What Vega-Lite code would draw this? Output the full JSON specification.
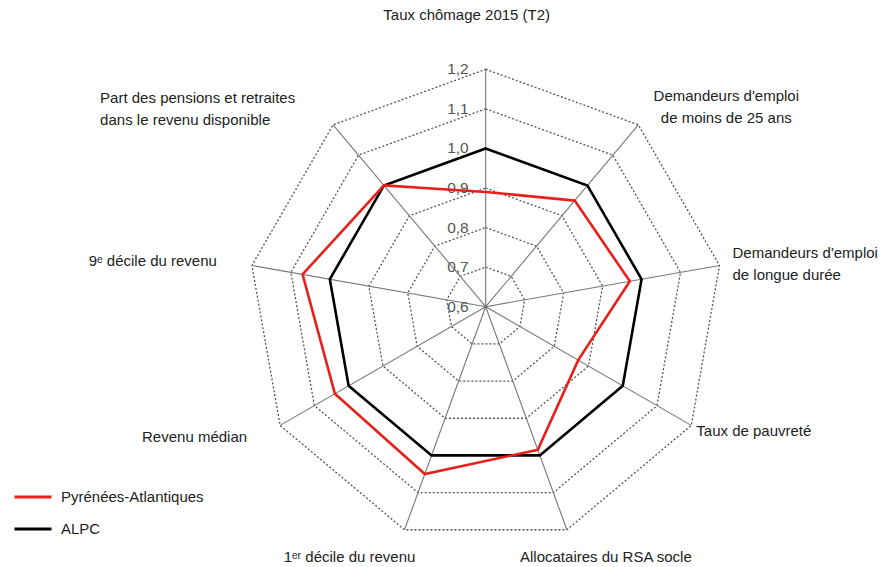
{
  "$schema": "https://vega.github.io/schema/vega-lite/v6.json",
  "width": 887,
  "height": 567,
  "autosize": "none",
  "padding": 0,
  "background": "white",
  "config": {
    "view": {"stroke": null},
    "font": "Liberation Sans",
    "text": {"font": "Liberation Sans", "fontSize": 15, "fill": "#222"}
  },
  "datasets": {
    "axes": [
      {"idx": 0, "axis": "Taux chômage 2015 (T2)"},
      {"idx": 1, "axis": "Demandeurs d'emploi\nde moins de 25 ans"},
      {"idx": 2, "axis": "Demandeurs d'emploi\nde longue durée"},
      {"idx": 3, "axis": "Taux de pauvreté"},
      {"idx": 4, "axis": "Allocataires du RSA socle"},
      {"idx": 5, "axis": "1ᵉʳ décile du revenu"},
      {"idx": 6, "axis": "Revenu médian"},
      {"idx": 7, "axis": "9ᵉ décile du revenu"},
      {"idx": 8, "axis": "Part des pensions et retraites\ndans le revenu disponible"}
    ],
    "rings": [
      {"level": 0.7, "idx": [0, 1, 2, 3, 4, 5, 6, 7, 8]},
      {"level": 0.8, "idx": [0, 1, 2, 3, 4, 5, 6, 7, 8]},
      {"level": 0.9, "idx": [0, 1, 2, 3, 4, 5, 6, 7, 8]},
      {"level": 1.0, "idx": [0, 1, 2, 3, 4, 5, 6, 7, 8]},
      {"level": 1.1, "idx": [0, 1, 2, 3, 4, 5, 6, 7, 8]},
      {"level": 1.2, "idx": [0, 1, 2, 3, 4, 5, 6, 7, 8]}
    ],
    "ticklabels": [
      {"level": 0.6, "label": "0,6"},
      {"level": 0.7, "label": "0,7"},
      {"level": 0.8, "label": "0,8"},
      {"level": 0.9, "label": "0,9"},
      {"level": 1.0, "label": "1,0"},
      {"level": 1.1, "label": "1,1"},
      {"level": 1.2, "label": "1,2"}
    ],
    "series": [
      {"series": "ALPC", "idx": 0, "value": 1.0},
      {"series": "ALPC", "idx": 1, "value": 1.0},
      {"series": "ALPC", "idx": 2, "value": 1.0},
      {"series": "ALPC", "idx": 3, "value": 1.0},
      {"series": "ALPC", "idx": 4, "value": 1.0},
      {"series": "ALPC", "idx": 5, "value": 1.0},
      {"series": "ALPC", "idx": 6, "value": 1.0},
      {"series": "ALPC", "idx": 7, "value": 1.0},
      {"series": "ALPC", "idx": 8, "value": 1.0},
      {"series": "Pyrénées-Atlantiques", "idx": 0, "value": 0.89},
      {"series": "Pyrénées-Atlantiques", "idx": 1, "value": 0.95},
      {"series": "Pyrénées-Atlantiques", "idx": 2, "value": 0.97},
      {"series": "Pyrénées-Atlantiques", "idx": 3, "value": 0.87},
      {"series": "Pyrénées-Atlantiques", "idx": 4, "value": 0.985},
      {"series": "Pyrénées-Atlantiques", "idx": 5, "value": 1.05},
      {"series": "Pyrénées-Atlantiques", "idx": 6, "value": 1.04},
      {"series": "Pyrénées-Atlantiques", "idx": 7, "value": 1.07},
      {"series": "Pyrénées-Atlantiques", "idx": 8, "value": 1.0}
    ]
  },
  "layer": [
    {
      "data": {"name": "rings"},
      "transform": [
        {"flatten": ["idx"]},
        {"calculate": "(datum.level-0.6)/0.6*sin(datum.idx*2*PI/9)", "as": "px"},
        {"calculate": "(datum.level-0.6)/0.6*cos(datum.idx*2*PI/9)", "as": "py"}
      ],
      "mark": {"type": "line", "interpolate": "linear-closed", "stroke": "#555", "strokeWidth": 1.3, "strokeDash": [2, 2]},
      "encoding": {
        "x": {"field": "px", "type": "quantitative", "scale": {"domain": [-2.0459, 1.6904], "nice": false, "zero": false}, "axis": null},
        "y": {"field": "py", "type": "quantitative", "scale": {"domain": [-1.0965, 1.2919], "nice": false, "zero": false}, "axis": null},
        "detail": {"field": "level", "type": "nominal"},
        "order": {"field": "idx", "type": "quantitative"}
      }
    },
    {
      "data": {"name": "axes"},
      "transform": [
        {"calculate": "0", "as": "cx"},
        {"calculate": "sin(datum.idx*2*PI/9)", "as": "ex"},
        {"calculate": "cos(datum.idx*2*PI/9)", "as": "ey"}
      ],
      "mark": {"type": "rule", "stroke": "#777", "strokeWidth": 1.1},
      "encoding": {
        "x": {"field": "cx", "type": "quantitative", "scale": {"domain": [-2.0459, 1.6904], "nice": false, "zero": false}, "axis": null},
        "y": {"field": "cx", "type": "quantitative", "scale": {"domain": [-1.0965, 1.2919], "nice": false, "zero": false}, "axis": null},
        "x2": {"field": "ex"},
        "y2": {"field": "ey"}
      }
    },
    {
      "data": {"name": "ticklabels"},
      "transform": [
        {"calculate": "0", "as": "cx"},
        {"calculate": "(datum.level-0.6)/0.6", "as": "py"}
      ],
      "mark": {"type": "text", "align": "right", "baseline": "middle", "dx": -17, "fill": "#555", "fontSize": 15.5},
      "encoding": {
        "x": {"field": "cx", "type": "quantitative", "scale": {"domain": [-2.0459, 1.6904], "nice": false, "zero": false}, "axis": null},
        "y": {"field": "py", "type": "quantitative", "scale": {"domain": [-1.0965, 1.2919], "nice": false, "zero": false}, "axis": null},
        "text": {"field": "label", "type": "nominal"}
      }
    },
    {
      "data": {"name": "series"},
      "transform": [
        {"calculate": "(datum.value-0.6)/0.6*sin(datum.idx*2*PI/9)", "as": "px"},
        {"calculate": "(datum.value-0.6)/0.6*cos(datum.idx*2*PI/9)", "as": "py"}
      ],
      "mark": {"type": "line", "interpolate": "linear-closed", "strokeWidth": 2.6},
      "encoding": {
        "x": {"field": "px", "type": "quantitative", "scale": {"domain": [-2.0459, 1.6904], "nice": false, "zero": false}, "axis": null},
        "y": {"field": "py", "type": "quantitative", "scale": {"domain": [-1.0965, 1.2919], "nice": false, "zero": false}, "axis": null},
        "order": {"field": "idx", "type": "quantitative"},
        "color": {
          "field": "series", "type": "nominal",
          "scale": {"domain": ["Pyrénées-Atlantiques", "ALPC"], "range": ["#e8201c", "#000000"]},
          "legend": {
            "title": null, "orient": "none", "legendX": 13, "legendY": 477,
            "symbolType": "stroke", "symbolSize": 1369, "symbolStrokeWidth": 3,
            "labelFont": "Liberation Sans", "labelFontSize": 15, "labelColor": "#222",
            "labelOffset": 8, "rowPadding": 4, "padding": 0
          }
        }
      }
    },
    {
      "data": {"name": "axes"},
      "transform": [
        {"filter": "datum.idx==0"},
        {"calculate": "sin(datum.idx*2*PI/9)", "as": "ex"},
        {"calculate": "cos(datum.idx*2*PI/9)", "as": "ey"}
      ],
      "mark": {"type": "text", "align": "center", "baseline": "middle", "dx": -19, "dy": -54, "lineBreak": "\n", "lineHeight": 22.5},
      "encoding": {
        "x": {"field": "ex", "type": "quantitative", "scale": {"domain": [-2.0459, 1.6904], "nice": false, "zero": false}, "axis": null},
        "y": {"field": "ey", "type": "quantitative", "scale": {"domain": [-1.0965, 1.2919], "nice": false, "zero": false}, "axis": null},
        "text": {"field": "axis", "type": "nominal"}
      }
    },
    {
      "data": {"name": "axes"},
      "transform": [
        {"filter": "datum.idx==1"},
        {"calculate": "sin(datum.idx*2*PI/9)", "as": "ex"},
        {"calculate": "cos(datum.idx*2*PI/9)", "as": "ey"}
      ],
      "mark": {"type": "text", "align": "center", "baseline": "middle", "dx": 88, "dy": -29, "lineBreak": "\n", "lineHeight": 22.5},
      "encoding": {
        "x": {"field": "ex", "type": "quantitative", "scale": {"domain": [-2.0459, 1.6904], "nice": false, "zero": false}, "axis": null},
        "y": {"field": "ey", "type": "quantitative", "scale": {"domain": [-1.0965, 1.2919], "nice": false, "zero": false}, "axis": null},
        "text": {"field": "axis", "type": "nominal"}
      }
    },
    {
      "data": {"name": "axes"},
      "transform": [
        {"filter": "datum.idx==2"},
        {"calculate": "sin(datum.idx*2*PI/9)", "as": "ex"},
        {"calculate": "cos(datum.idx*2*PI/9)", "as": "ey"}
      ],
      "mark": {"type": "text", "align": "left", "baseline": "middle", "dx": 13, "dy": -12.5, "lineBreak": "\n", "lineHeight": 22.5},
      "encoding": {
        "x": {"field": "ex", "type": "quantitative", "scale": {"domain": [-2.0459, 1.6904], "nice": false, "zero": false}, "axis": null},
        "y": {"field": "ey", "type": "quantitative", "scale": {"domain": [-1.0965, 1.2919], "nice": false, "zero": false}, "axis": null},
        "text": {"field": "axis", "type": "nominal"}
      }
    },
    {
      "data": {"name": "axes"},
      "transform": [
        {"filter": "datum.idx==3"},
        {"calculate": "sin(datum.idx*2*PI/9)", "as": "ex"},
        {"calculate": "cos(datum.idx*2*PI/9)", "as": "ey"}
      ],
      "mark": {"type": "text", "align": "left", "baseline": "middle", "dx": 5, "dy": 6},
      "encoding": {
        "x": {"field": "ex", "type": "quantitative", "scale": {"domain": [-2.0459, 1.6904], "nice": false, "zero": false}, "axis": null},
        "y": {"field": "ey", "type": "quantitative", "scale": {"domain": [-1.0965, 1.2919], "nice": false, "zero": false}, "axis": null},
        "text": {"field": "axis", "type": "nominal"}
      }
    },
    {
      "data": {"name": "axes"},
      "transform": [
        {"filter": "datum.idx==4"},
        {"calculate": "sin(datum.idx*2*PI/9)", "as": "ex"},
        {"calculate": "cos(datum.idx*2*PI/9)", "as": "ey"}
      ],
      "mark": {"type": "text", "align": "center", "baseline": "middle", "dx": 39, "dy": 27},
      "encoding": {
        "x": {"field": "ex", "type": "quantitative", "scale": {"domain": [-2.0459, 1.6904], "nice": false, "zero": false}, "axis": null},
        "y": {"field": "ey", "type": "quantitative", "scale": {"domain": [-1.0965, 1.2919], "nice": false, "zero": false}, "axis": null},
        "text": {"field": "axis", "type": "nominal"}
      }
    },
    {
      "data": {"name": "axes"},
      "transform": [
        {"filter": "datum.idx==5"},
        {"calculate": "sin(datum.idx*2*PI/9)", "as": "ex"},
        {"calculate": "cos(datum.idx*2*PI/9)", "as": "ey"}
      ],
      "mark": {"type": "text", "align": "center", "baseline": "middle", "dx": -55, "dy": 27},
      "encoding": {
        "x": {"field": "ex", "type": "quantitative", "scale": {"domain": [-2.0459, 1.6904], "nice": false, "zero": false}, "axis": null},
        "y": {"field": "ey", "type": "quantitative", "scale": {"domain": [-1.0965, 1.2919], "nice": false, "zero": false}, "axis": null},
        "text": {"field": "axis", "type": "nominal"}
      }
    },
    {
      "data": {"name": "axes"},
      "transform": [
        {"filter": "datum.idx==6"},
        {"calculate": "sin(datum.idx*2*PI/9)", "as": "ex"},
        {"calculate": "cos(datum.idx*2*PI/9)", "as": "ey"}
      ],
      "mark": {"type": "text", "align": "right", "baseline": "middle", "dx": -33, "dy": 12},
      "encoding": {
        "x": {"field": "ex", "type": "quantitative", "scale": {"domain": [-2.0459, 1.6904], "nice": false, "zero": false}, "axis": null},
        "y": {"field": "ey", "type": "quantitative", "scale": {"domain": [-1.0965, 1.2919], "nice": false, "zero": false}, "axis": null},
        "text": {"field": "axis", "type": "nominal"}
      }
    },
    {
      "data": {"name": "axes"},
      "transform": [
        {"filter": "datum.idx==7"},
        {"calculate": "sin(datum.idx*2*PI/9)", "as": "ex"},
        {"calculate": "cos(datum.idx*2*PI/9)", "as": "ey"}
      ],
      "mark": {"type": "text", "align": "right", "baseline": "middle", "dx": -35, "dy": -4},
      "encoding": {
        "x": {"field": "ex", "type": "quantitative", "scale": {"domain": [-2.0459, 1.6904], "nice": false, "zero": false}, "axis": null},
        "y": {"field": "ey", "type": "quantitative", "scale": {"domain": [-1.0965, 1.2919], "nice": false, "zero": false}, "axis": null},
        "text": {"field": "axis", "type": "nominal"}
      }
    },
    {
      "data": {"name": "axes"},
      "transform": [
        {"filter": "datum.idx==8"},
        {"calculate": "sin(datum.idx*2*PI/9)", "as": "ex"},
        {"calculate": "cos(datum.idx*2*PI/9)", "as": "ey"}
      ],
      "mark": {"type": "text", "align": "left", "baseline": "middle", "dx": -233, "dy": -27, "lineBreak": "\n", "lineHeight": 22.5},
      "encoding": {
        "x": {"field": "ex", "type": "quantitative", "scale": {"domain": [-2.0459, 1.6904], "nice": false, "zero": false}, "axis": null},
        "y": {"field": "ey", "type": "quantitative", "scale": {"domain": [-1.0965, 1.2919], "nice": false, "zero": false}, "axis": null},
        "text": {"field": "axis", "type": "nominal"}
      }
    }
  ]
}
